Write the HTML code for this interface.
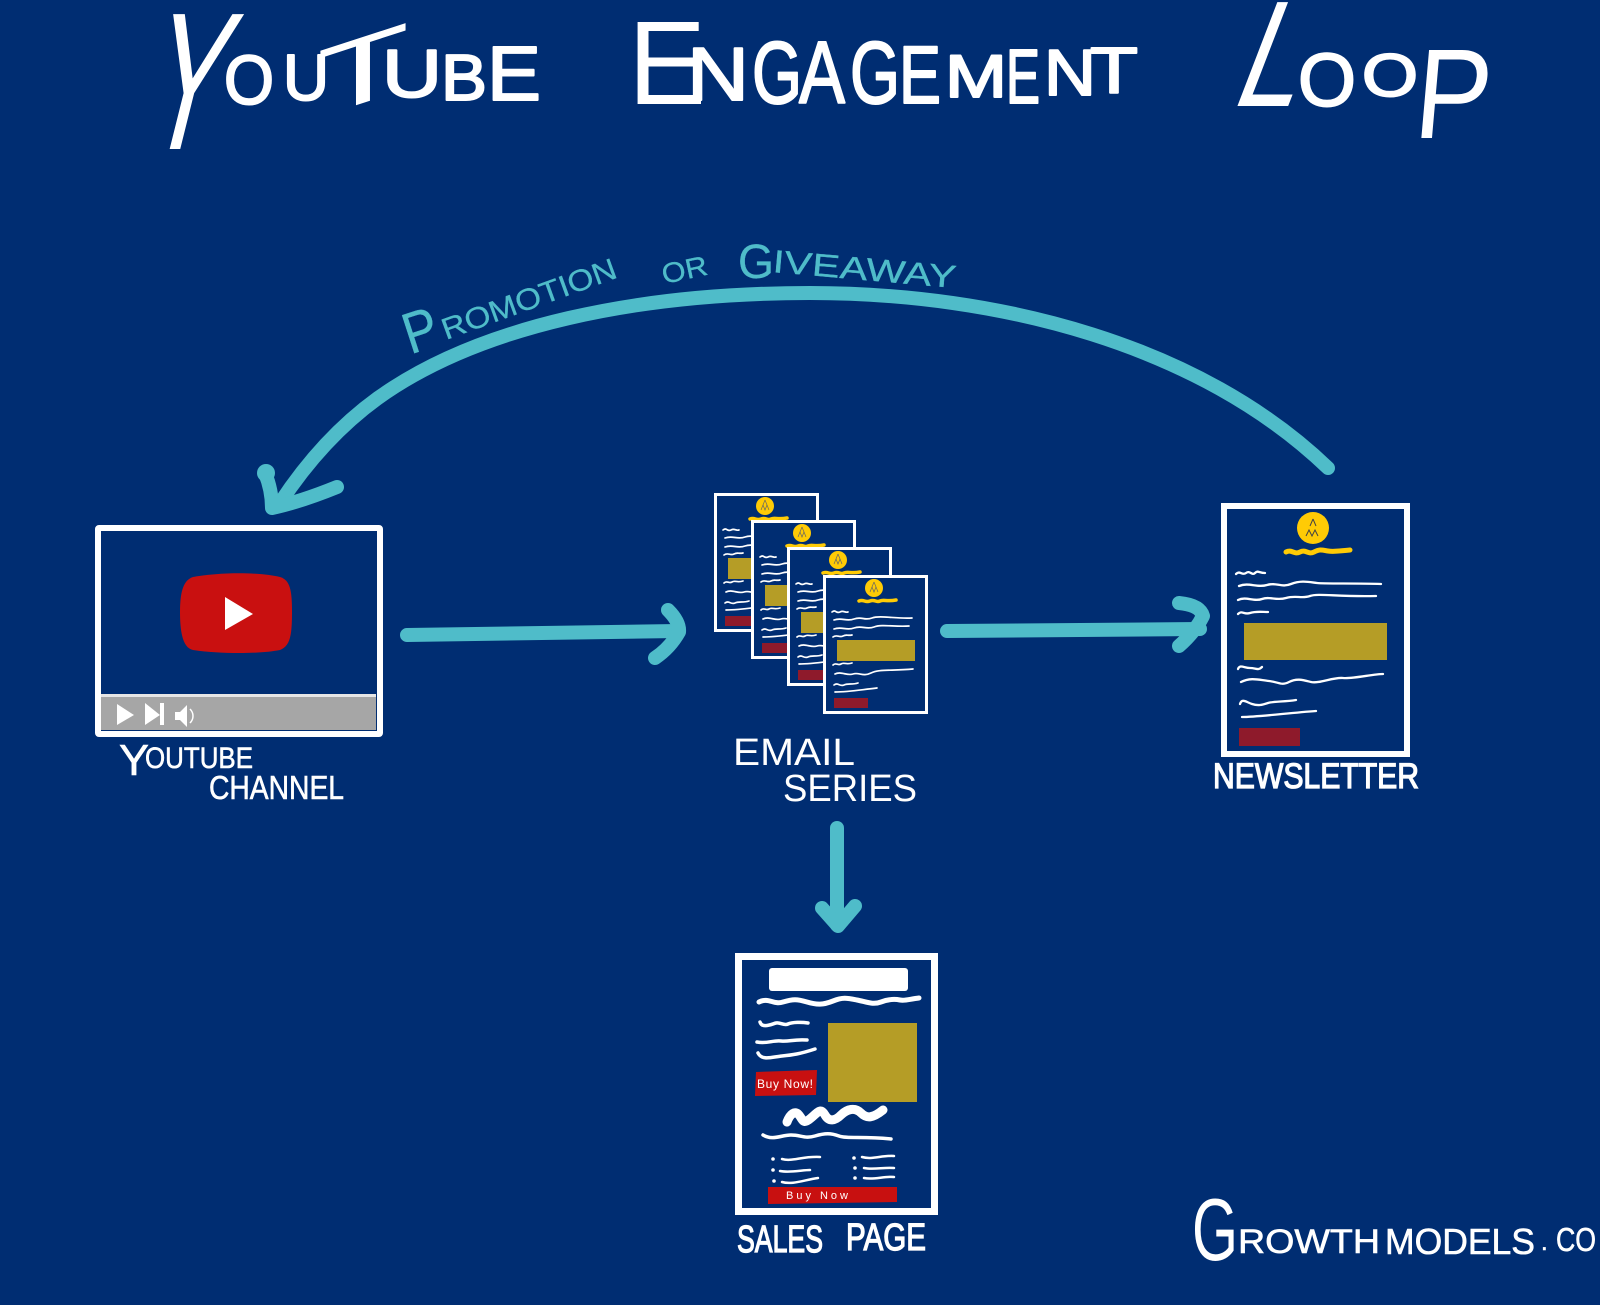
<!DOCTYPE html>
<html><head><meta charset="utf-8"><style>
html,body{margin:0;padding:0;background:#002d72}
svg{display:block}
text{font-family:"Liberation Sans",sans-serif;fill:#fff}
.t{stroke:#fff;stroke-width:2;stroke-linejoin:round}
.l{stroke:#fff;stroke-width:.6}
.b{stroke:#fff;stroke-width:1.3}
.c{fill:#4fbcc9;stroke:#4fbcc9;stroke-width:.3}
.w{fill:none;stroke:#fff;stroke-linecap:round;stroke-linejoin:round}
.a{fill:none;stroke:#4fbcc9;stroke-width:14;stroke-linecap:round;stroke-linejoin:round}
</style></head><body>
<svg width="1600" height="1305" viewBox="0 0 1600 1305" xmlns="http://www.w3.org/2000/svg">
<rect width="1600" height="1305" fill="#002d72"/>
<defs>
<g id="mail">
<rect x="1.5" y="1.5" width="102" height="136" fill="#002d72" stroke="#fff" stroke-width="3"/>
<circle cx="51" cy="13" r="9" fill="#ffcb05"/>
<path d="M51 7l-2 5M51 7l2 5M47 17l2-5 2 5 2-5 2 5" fill="none" stroke="#666" stroke-width=".7"/>
<path d="M36 26c5-2 6 2 11 0s6 2 10 0 6 1 16-1" fill="none" stroke="#ffcb05" stroke-width="3.5" stroke-linecap="round"/>
<g fill="none" stroke="#fff" stroke-width="1.7" stroke-linecap="round">
<path d="M9 37c4-3 4 2 8 0s4 1 8 0"/>
<path d="M11 45c8-3 12 2 20-1s10 2 18-1 24 1 40 0"/>
<path d="M11 54c8-3 12 2 20-1s12 2 20-1 20 0 35-1"/>
<path d="M10 62c4-3 6 1 10-1s4 0 9-1"/>
<path d="M10 90c3-3 5 1 8-1s5 1 11-1"/>
<path d="M12 99c6-3 12 2 18 0s10 3 18-1 20-2 42-4"/>
<path d="M11 110c4-3 6 2 10 0s8 0 14-2"/>
<path d="M12 117c14 0 24-2 42-4"/>
</g>
<rect x="14" y="65" width="78" height="21" fill="#b59d26"/>
<rect x="11" y="123" width="34" height="10" fill="#8e1a2b"/>
</g>
</defs>

<!-- Title -->
<text transform="translate(175 149) skewX(-14)" x="-38" y="0" font-size="196" textLength="76" lengthAdjust="spacingAndGlyphs">Y</text>
<text class="t" x="224" y="104" font-size="70" textLength="50" lengthAdjust="spacingAndGlyphs">O</text>
<text class="t" x="283" y="100" font-size="65" textLength="46" lengthAdjust="spacingAndGlyphs">U</text>
<text transform="translate(363 103) skewY(-18)" x="-46" y="0" font-size="96" textLength="92" lengthAdjust="spacingAndGlyphs">T</text>
<text class="t" x="382" y="97" font-size="68" textLength="60" lengthAdjust="spacingAndGlyphs">U</text>
<text class="t" x="441" y="100" font-size="65" textLength="46" lengthAdjust="spacingAndGlyphs">B</text>
<text class="t" x="487" y="100" font-size="77" textLength="54" lengthAdjust="spacingAndGlyphs">E</text>
<text x="628" y="104" font-size="119" textLength="78" lengthAdjust="spacingAndGlyphs">E</text>
<text class="t" x="687" y="100" font-size="75" textLength="62" lengthAdjust="spacingAndGlyphs">N</text>
<text class="t" x="752" y="103" font-size="88" textLength="50" lengthAdjust="spacingAndGlyphs">G</text>
<text class="t" x="799" y="103" font-size="88" textLength="46" lengthAdjust="spacingAndGlyphs">A</text>
<text class="t" x="850" y="103" font-size="88" textLength="50" lengthAdjust="spacingAndGlyphs">G</text>
<text class="t" x="899" y="103" font-size="82" textLength="42" lengthAdjust="spacingAndGlyphs">E</text>
<text class="t" x="945" y="97" font-size="60" textLength="62" lengthAdjust="spacingAndGlyphs">M</text>
<text class="t" x="1006" y="103" font-size="77" textLength="34" lengthAdjust="spacingAndGlyphs">E</text>
<text class="t" x="1044" y="95" font-size="65" textLength="52" lengthAdjust="spacingAndGlyphs">N</text>
<text class="t" x="1090" y="93" font-size="65" textLength="48" lengthAdjust="spacingAndGlyphs">T</text>
<text transform="translate(1236 106) skewX(-21)" x="-8" y="0" font-size="151" textLength="64" lengthAdjust="spacingAndGlyphs">L</text>
<text class="t" x="1298" y="106" font-size="75" textLength="58" lengthAdjust="spacingAndGlyphs">O</text>
<text class="t" x="1362" y="96" font-size="60" textLength="56" lengthAdjust="spacingAndGlyphs">O</text>
<text transform="translate(1420 138) skewX(-5)" x="-8" y="0" font-size="128" textLength="76" lengthAdjust="spacingAndGlyphs">P</text>

<!-- Loop arc -->
<path class="a" d="M1328 468C1200 345 1000 293 810 293C640 293 480 325 378 398C338 427 305 465 280 503"/>
<path class="a" d="M265 473Q272 490 272 508Q300 502 337 487"/>
<circle cx="266" cy="473" r="9" fill="#4fbcc9"/>
<text class="c" transform="translate(418 352) rotate(-18)" x="-8" y="0" font-size="58" textLength="34" lengthAdjust="spacingAndGlyphs">P</text>
<text class="c" transform="translate(446 340) rotate(-20)" x="0" y="0" font-size="30" textLength="184" lengthAdjust="spacingAndGlyphs">ROMOTION</text>
<text class="c" transform="translate(664 284) rotate(-12)" x="0" y="0" font-size="28" textLength="46" lengthAdjust="spacingAndGlyphs">OR</text>
<text class="c" x="738" y="278" font-size="48" textLength="36" lengthAdjust="spacingAndGlyphs">G</text>
<text class="c" transform="translate(772 272) rotate(5)" x="0" y="0" font-size="32" textLength="184" lengthAdjust="spacingAndGlyphs">IVEAWAY</text>

<!-- Arrows -->
<path class="a" d="M407 635L678 631"/>
<path class="a" d="M668 610Q680 622 679 632Q670 648 655 658"/>
<path class="a" d="M947 631L1200 629"/>
<path class="a" d="M1179 603Q1200 605 1203 616Q1195 632 1179 646"/>
<path class="a" d="M837 828L837 925"/>
<path class="a" d="M822 908L838 926L855 906"/>

<!-- YouTube channel -->
<rect x="98" y="528" width="282" height="206" fill="#002d72" stroke="#fff" stroke-width="6" rx="1"/>
<rect x="101" y="697" width="275" height="33" fill="#a6a6a6"/>
<rect x="101" y="694" width="275" height="3" fill="#e6e6e6"/>
<path d="M193 577C220 572 260 572 280 577C290 580 292 590 292 612C292 636 290 646 280 650C260 654 220 654 193 650C184 648 180 636 180 612C180 590 184 580 193 577Z" fill="#c91010"/>
<path d="M225 597L253 614L225 630Z" fill="#fff"/>
<path d="M117 704L134 715L117 725Z" fill="#fff"/>
<path d="M145 703L160 715L145 725Z" fill="#fff"/>
<rect x="160" y="703" width="4" height="22" fill="#fff"/>
<path d="M175 712H180L187 705V727L180 720H175Z" fill="#fff"/>
<path d="M190 709C194 713 194 719 190 723" fill="none" stroke="#fff" stroke-width="1.5"/>
<text class="l" x="119" y="775" font-size="44" textLength="30" lengthAdjust="spacingAndGlyphs">Y</text>
<text class="l" x="145" y="768" font-size="30" textLength="108" lengthAdjust="spacingAndGlyphs">OUTUBE</text>
<text class="l" x="209" y="799" font-size="33" textLength="135" lengthAdjust="spacingAndGlyphs">CHANNEL</text>

<!-- Email series -->
<use href="#mail" x="714" y="493"/>
<use href="#mail" x="751" y="520"/>
<use href="#mail" x="787" y="547"/>
<use href="#mail" x="823" y="575"/>
<text x="733" y="765" font-size="38" textLength="122" lengthAdjust="spacingAndGlyphs">EMAIL</text>
<text x="783" y="801" font-size="38" textLength="134" lengthAdjust="spacingAndGlyphs">SERIES</text>

<!-- Newsletter -->
<rect x="1224" y="506" width="183" height="248" fill="#002d72" stroke="#fff" stroke-width="6"/>
<circle cx="1313" cy="528" r="16" fill="#ffcb05"/>
<path d="M1313 519l-3 7M1313 519l3 7M1306 536l3-6 3 6 3-6 3 6" fill="none" stroke="#444" stroke-width="1"/>
<path d="M1286 552c6-3 8 3 14 0s8 3 14 0 8-2 14-1 10 0 22-1" fill="none" stroke="#ffcb05" stroke-width="5" stroke-linecap="round"/>
<g class="w" stroke-width="2.300">
<path d="M1236 574c4-4 6 2 10-1s6 3 9 0 4 0 10 0"/>
<path d="M1239 586c10-4 18 2 28-1s14 3 24-1 18-2 26-1 40 0 64 1"/>
<path d="M1238 600c8-4 16 2 24-1s14 2 24-1 16 1 24-2 28 1 66 0"/>
<path d="M1238 614c4-4 6 1 12-1s12-1 18-1"/>
<path d="M1238 669c2-5 6-1 12-1s8 3 12-1"/>
<path d="M1241 682c10-5 18-2 28-1s12 5 20 1 14-2 22 0 22-5 32-4 30-4 40-4"/>
<path d="M1240 704c2-6 6-2 12 0s10 1 16-1 16-1 28-3"/>
<path d="M1242 717c16 0 46-4 74-6"/>
</g>
<rect x="1244" y="623" width="143" height="37" fill="#b59d26"/>
<rect x="1239" y="728" width="61" height="18" fill="#8e1a2b"/>
<text class="b" x="1213" y="788" font-size="35" textLength="206" lengthAdjust="spacingAndGlyphs">NEWSLETTER</text>

<!-- Sales page -->
<rect x="738.500" y="956.500" width="196" height="255" fill="#002d72" stroke="#fff" stroke-width="7"/>
<rect x="769" y="968" width="139" height="23" rx="3" fill="#fff"/>
<g class="w">
<path stroke-width="5" d="M759 1002c10-5 14 3 24 0s14-3 24 0 16 3 26-1 14-3 24-1 16 5 24 2 14-3 19-2 10-1 19-2"/>
<path stroke-width="3.500" d="M760 1022c2 7 12 2 16 1s8 3 12 1 14-2 20-1"/>
<path stroke-width="3.500" d="M757 1042c10 2 16-2 24-1s12-2 26-1"/>
<path stroke-width="3.500" d="M758 1053c4 8 14 4 24 3s18-2 33-7"/>
<path stroke-width="9" d="M787 1122c3-8 8-12 12-7s4 10 12 3 10-10 14-3 10 6 16 0 14-8 20-2 12 5 22-3"/>
<path stroke-width="3.500" d="M763 1135c10 6 18 0 28 0s14 4 24 1 16-3 24 0 24 0 52 3"/>
<path stroke-width="2.500" d="M782 1159c10 3 20-3 38-2M780 1171c10 2 22-1 30-1M782 1182c10 3 22-2 36-4M862 1157c10 3 20-2 32-1M864 1168c10 2 20-1 30 0M864 1178c10 2 20-2 30-1"/>
</g>
<g fill="#fff">
<circle cx="773" cy="1159" r="1.800"/><circle cx="773" cy="1170" r="1.800"/><circle cx="774" cy="1181" r="1.800"/>
<circle cx="854" cy="1158" r="1.800"/><circle cx="855" cy="1168" r="1.800"/><circle cx="855" cy="1178" r="1.800"/>
</g>
<rect x="828" y="1023" width="89" height="79" fill="#b59d26"/>
<path d="M756 1072L817 1070L816 1095L755 1096Z" fill="#c81010"/>
<text x="757" y="1088" font-size="12" textLength="56">Buy Now!</text>
<path d="M768 1187H897V1202L768 1204Z" fill="#c81010"/>
<text x="786" y="1199" font-size="11" textLength="62">Buy  Now</text>
<text class="b" x="737" y="1252" font-size="38" textLength="86" lengthAdjust="spacingAndGlyphs">SALES</text>
<text class="b" x="846" y="1250" font-size="38" textLength="80" lengthAdjust="spacingAndGlyphs">PAGE</text>

<!-- Credit -->
<text x="1192" y="1260" font-size="88" textLength="46" lengthAdjust="spacingAndGlyphs">G</text>
<text class="l" x="1238" y="1253" font-size="34" textLength="142" lengthAdjust="spacingAndGlyphs">ROWTH</text>
<text class="l" x="1385" y="1254" font-size="36" textLength="150" lengthAdjust="spacingAndGlyphs">MODELS</text>
<text class="l" x="1541" y="1250" font-size="24">.</text>
<text class="l" x="1556" y="1251" font-size="33" textLength="40" lengthAdjust="spacingAndGlyphs">CO</text>
</svg>
</body></html>
